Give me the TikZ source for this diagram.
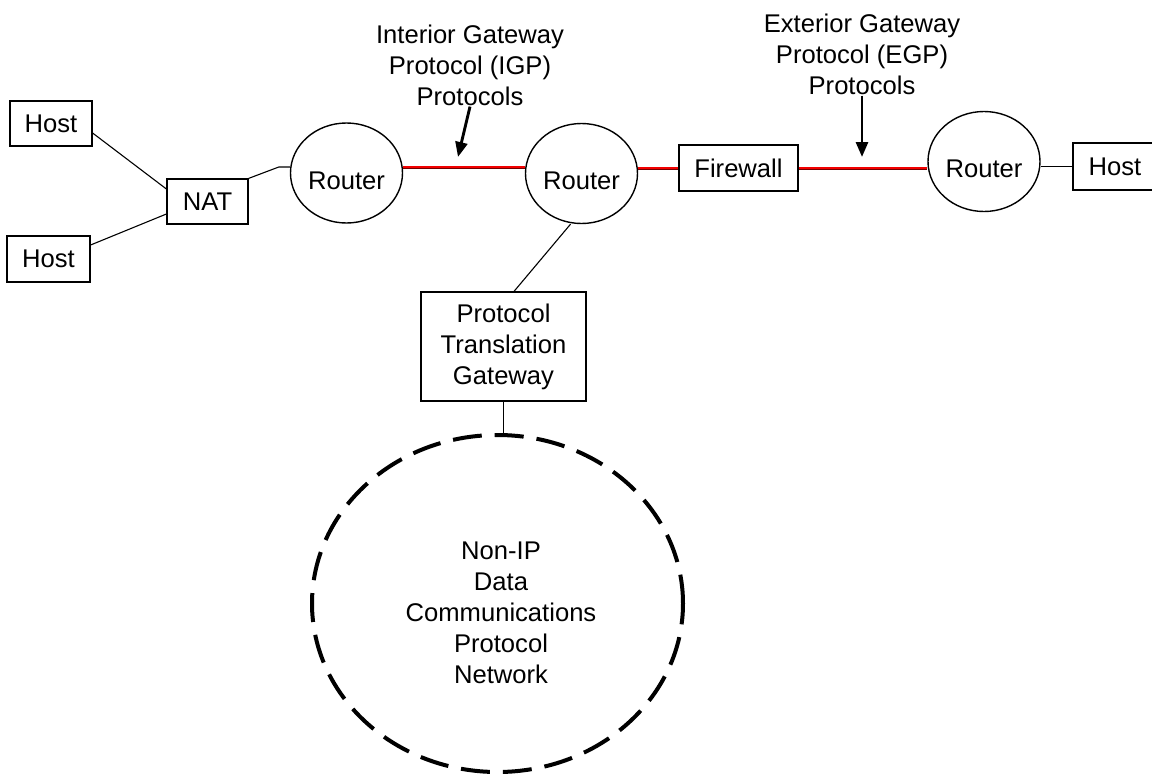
\documentclass[tikz,border=0pt]{standalone}
\usepackage{fontspec}
\setmainfont{Liberation Sans}
\usetikzlibrary{shapes.geometric,arrows.meta,calc}

\begin{document}
\begin{tikzpicture}[x=1pt,y=-1pt,
  every node/.style={font=\fontsize{25.6}{31}\selectfont, inner sep=0pt},
  box/.style={draw, line width=1.2pt, align=center},
  router/.style={draw, ellipse, line width=1.4pt, minimum width=112, minimum height=100,
                 text height=38pt, text depth=5.5pt},
  cloud/.style={draw, ellipse, line width=4pt, dash pattern=on 29pt off 13pt,
                minimum width=371, minimum height=337},
  thin/.style={line width=1.1pt},
  redlink/.style={draw=red!45!black, line width=0.8pt, double=red!95!black, double distance=1.4pt},
  callout/.style={line width=2.9pt, -{Triangle[length=15pt,width=12pt]}},
  label/.style={align=center}]

\useasboundingbox (0,0) rectangle (1152,774);

% hosts, NAT, routers, firewall
\node[box, minimum width=82, minimum height=45] (host1) at (51,123.5) {Host};
\node[box, minimum width=83, minimum height=46] (host2) at (48.5,259) {Host};
\node[box, minimum width=81, minimum height=45] (nat) at (207.5,201.5) {NAT};
\node[router] (r1) at (346.5,173) {Router};
\node[router] (r2) at (581.5,173.5) {Router};
\node[box, minimum width=119, minimum height=46] (fw) at (738.5,168) {Firewall};
\node[router] (r3) at (984,161.5) {Router};
\node[box, minimum width=84, minimum height=47] (host3) at (1115,166.5) {Host};

% gateway and the non-IP network
\node[box, minimum width=165, minimum height=109] (ptg) at (503.5,346.5)
  {Protocol\\Translation\\Gateway};
\node[cloud] (net) at (497.5,603.5) {};
\node[label] (nettext) at (501,612.5) {Non-IP\\Data\\Communications\\Protocol\\Network};

% protocol labels
\node[label] (igp) at (470,65) {Interior Gateway\\Protocol (IGP)\\Protocols};
\node[label] (egp) at (862,54) {Exterior Gateway\\Protocol (EGP)\\Protocols};
\coordinate (igptip) at (458,157);
\coordinate (egptip) at (862,157);

% plain links
\draw[thin] ([yshift=-9.5pt]host1.east) -- ([yshift=12.5pt]nat.west);
\draw[thin] ([yshift=14pt]host2.east) -- ([yshift=-12.5pt]nat.west);
\draw[thin] (nat.north east) -- ([xshift=-11pt,yshift=6pt]r1.west) -- ([yshift=6pt]r1.west);
\draw[thin] ([xshift=-11pt]r2.south) -- ([xshift=10.5pt]ptg.north);
\draw[thin] (ptg.south) -- (ptg.south |- net.north);
\draw[thin] (host3.west -| r3.east) -- (host3.west);

% routed links
\draw[redlink] ([yshift=6pt]r1.east) -- ([yshift=6.5pt]r2.west);
\draw[redlink] (r2.east |- fw.west) -- (fw.west);
\draw[redlink] (fw.east) -- (fw.east -| r3.west);

% callouts
\draw[callout] ([yshift=-1pt]igp.south) -- (igptip);
\draw[callout] ([yshift=-1pt]egp.south) -- (egptip);
\end{tikzpicture}
\end{document}
